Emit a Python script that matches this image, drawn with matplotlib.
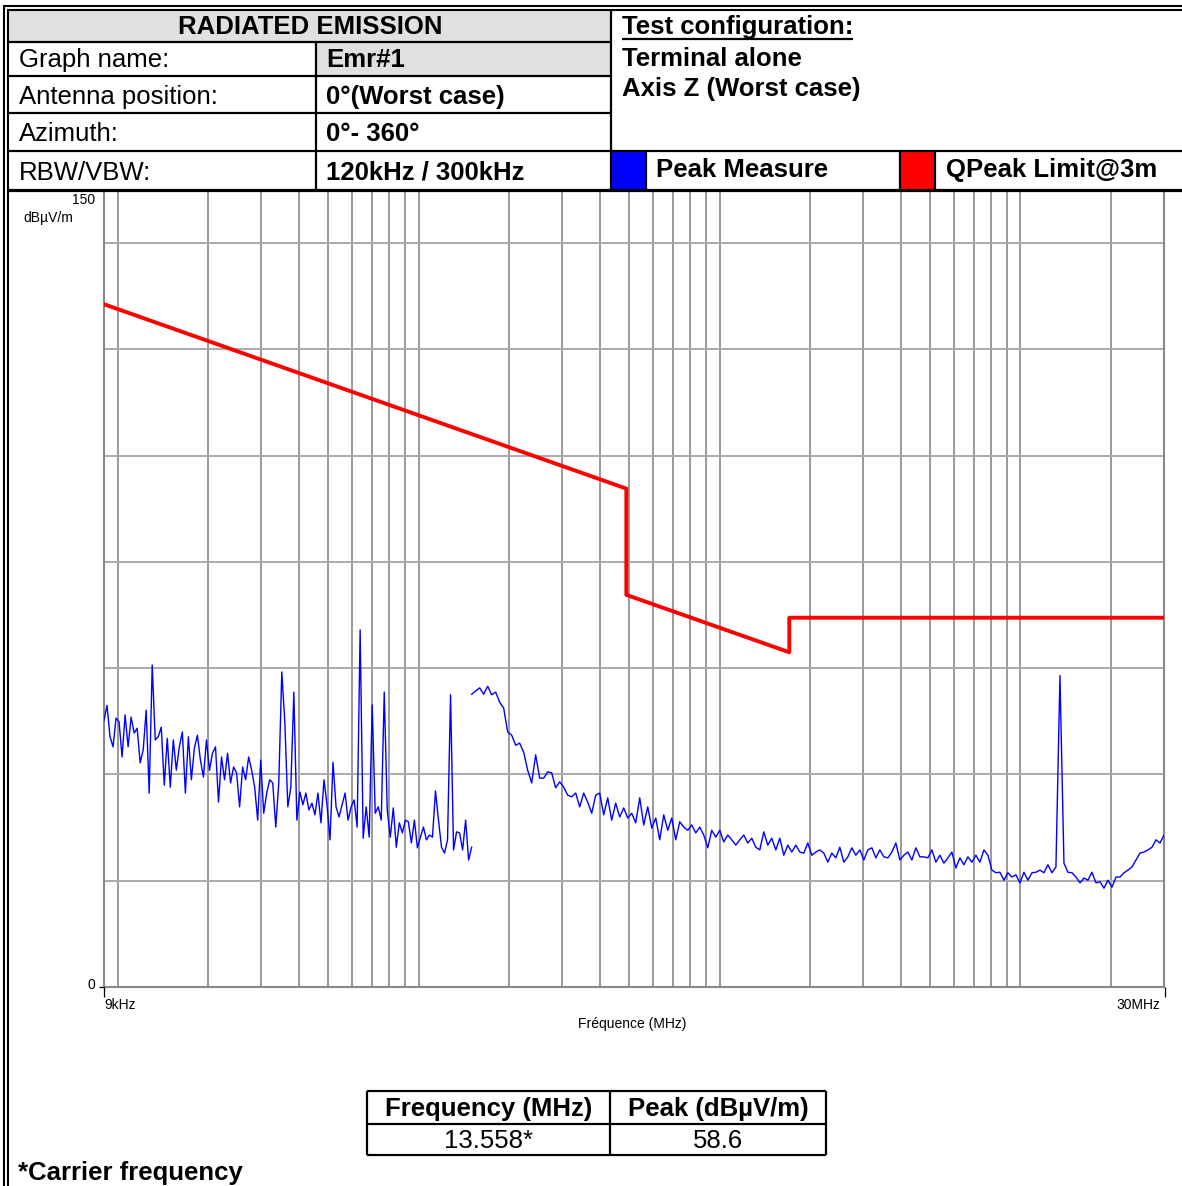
import numpy as np
import matplotlib
matplotlib.use("Agg")
import matplotlib.pyplot as plt
from matplotlib.patches import Rectangle

plt.rcParams['font.family'] = ['Liberation Sans', 'DejaVu Sans']

W, H = 1182, 1186

# ---- data ----
# 9 kHz - 150 kHz sweep (dBuV/m)
seg1_level = [50.2, 53.0, 47.1, 45.2, 50.6, 49.9, 43.3, 51.2, 45.2, 50.8,
              47.8, 48.7, 42.2, 44.6, 52.1, 36.5, 60.6, 46.5, 47.1, 48.9,
              38.0, 46.8, 37.6, 46.5, 40.8, 45.2, 48.0, 36.5, 47.1, 39.0,
              45.0, 47.4, 42.7, 39.5, 46.5, 40.8, 44.0, 45.2, 34.8, 43.3,
              39.0, 44.0, 38.4, 41.4, 40.3, 33.9, 41.4, 39.0, 43.3, 40.8,
              37.6, 31.4, 42.7, 32.7, 36.5, 39.0, 38.4, 30.1, 38.4, 59.3,
              49.9,
              33.9, 37.6, 55.5, 31.4, 36.7, 34.3, 36.5, 33.3, 34.6, 32.4,
              36.5, 30.9, 39.0, 34.3, 27.7, 42.3,
              33.9, 32.0, 34.3, 36.5, 31.4, 33.9, 35.2, 30.1, 67.2, 28.0,
              33.9, 28.2, 53.1, 32.7, 33.9, 31.4, 55.5, 33.3, 28.2, 33.7,
              26.3, 30.9, 29.0, 31.4, 31.1, 27.1, 31.4, 26.2, 28.2, 30.1,
              27.7, 28.6, 28.2, 36.9,
              31.4, 26.3, 25.2, 27.7, 55.0, 25.8, 29.2, 29.0, 25.8, 31.4,
              23.9, 26.3]
# 150 kHz - 30 MHz sweep (dBuV/m)
seg2_level = [55.1, 55.7, 56.3, 55.1, 56.6, 55.0, 55.5, 53.6, 52.5, 48.0,
              47.4, 45.5, 45.9, 44.2, 40.8, 38.4, 43.7, 39.3, 39.3, 40.5,
              40.3, 37.5, 38.6, 37.6, 36.1, 35.8, 36.5, 33.9, 36.5, 34.8,
              32.7, 36.1, 36.5, 32.4, 35.6, 31.4, 34.6, 32.0, 33.7, 31.8,
              32.7, 30.9,
              35.6, 30.5, 33.9, 29.9, 31.8, 27.7, 32.4, 29.5, 31.8, 27.7,
              31.1, 30.1, 29.5, 30.5, 29.0, 30.1, 28.6, 26.2, 29.5, 28.2,
              29.5, 27.3, 28.6, 27.7, 26.7, 27.7, 28.6, 27.1, 28.0, 26.3,
              25.8, 29.2, 26.7, 28.0, 25.8, 28.0, 24.8, 26.7, 25.4, 26.7,
              25.4, 25.2, 27.1, 24.8,
              25.4, 25.8, 25.2, 23.5, 25.2, 24.3, 26.3, 23.5, 24.5, 26.2,
              24.8, 25.8, 23.9, 25.8, 26.2, 24.3, 25.8, 24.5, 24.3, 25.4,
              27.1, 23.9, 24.8, 25.4, 23.9, 26.2, 24.5, 24.5, 24.3, 25.8,
              23.5, 24.8, 23.3, 24.3, 25.4, 22.4, 24.3, 23.0, 24.5, 23.5,
              24.8, 23.5, 25.8, 24.8,
              22.0, 21.5, 21.6, 20.1, 21.5, 20.7, 21.1, 19.6, 21.6, 20.1,
              21.5, 21.6, 22.0, 21.5, 23.0, 21.5, 22.6, 58.6, 23.3, 21.6,
              21.5, 20.7, 19.6, 20.5, 20.1, 21.6, 19.6, 19.8, 18.6, 20.1,
              18.8, 20.7, 20.7, 21.5, 22.0, 22.6, 23.9, 25.2, 25.4, 25.8,
              26.3, 27.7, 27.1, 28.6]
# sweep frequencies (MHz), log stepped
seg1_freq = np.geomspace(0.009, 0.15, len(seg1_level))
seg2_freq = np.geomspace(0.15, 30.0, len(seg2_level))

# QPeak limit @3m
limit_freq = [0.009, 0.49, 0.49, 1.705, 1.705, 30.0]
limit_level = [128.5, 93.8, 73.8, 63.0, 69.5, 69.5]

header_rows = [("Graph name:", "Emr#1"),
               ("Antenna position:", "0°(Worst case)"),
               ("Azimuth:", "0°- 360°"),
               ("RBW/VBW:", "120kHz / 300kHz")]
config_lines = ["Terminal alone", "Axis Z (Worst case)"]
result_cols = ["Frequency (MHz)", "Peak (dBµV/m)"]
result_vals = ["13.558*", "58.6"]

# ---- figure ----
fig = plt.figure(figsize=(W / 100, H / 100), dpi=100)

# chart area
x0, x1, ytop, ybot = 104, 1164, 190, 987
ax = fig.add_axes([x0 / W, (H - ybot) / H, (x1 - x0) / W, (ybot - ytop) / H])
ax.set_xscale('log')
ax.set_xlim(0.009, 30)
ax.set_ylim(0, 150)
ax.set_yticks(np.arange(0, 141, 20))
ax.xaxis.grid(True, which='both', color='#999999', lw=1.4)
ax.yaxis.grid(True, which='major', color='#aaaaaa', lw=1.4)
ax.tick_params(which='both', length=0, labelbottom=False, labelleft=False)
for s in ax.spines.values():
    s.set_color('#888888')
    s.set_linewidth(1.5)

ax.plot(limit_freq, limit_level, color='#ff0000', lw=2.8, zorder=3)
ax.plot(seg1_freq, seg1_level, color='#0000ff', lw=1.0, zorder=4)
ax.plot(seg2_freq, seg2_level, color='#0000ff', lw=1.0, zorder=4)

# overlay in pixel coordinates for the report frame
ov = fig.add_axes([0, 0, 1, 1], zorder=5)
ov.set_xlim(0, W)
ov.set_ylim(H, 0)
ov.axis('off')
ov.patch.set_alpha(0)


def hline(y, xa, xb, lw=1.6):
    ov.plot([xa, xb], [y, y], color='black', lw=lw, solid_capstyle='butt')


def vline(x, ya, yb, lw=1.6):
    ov.plot([x, x], [ya, yb], color='black', lw=lw, solid_capstyle='butt')


# grey cells
ov.add_patch(Rectangle((8, 10), 603, 32, color='#e0e0e0', lw=0))
ov.add_patch(Rectangle((316, 42), 295, 34, color='#e0e0e0', lw=0))
# legend swatches
ov.add_patch(Rectangle((612, 151), 34, 38, color='#0000ff', lw=0))
ov.add_patch(Rectangle((901, 151), 34, 38, color='#ff0000', lw=0))

# outer double frame
hline(5.5, 3, W, lw=1.5)
hline(10, 7, W, lw=1.5)
vline(3.5, 5, H, lw=1.5)
vline(8, 10, H, lw=1.5)

# header grid
for y in (42, 76, 113):
    hline(y, 8, 611)
hline(151, 8, W)
hline(189.5, 8, W, lw=2.3)
vline(316, 42, 189)
vline(611, 10, 189)
for x in (646, 900, 935):
    vline(x, 151, 189)

fs = 18.5
ov.text(310, 34, "RADIATED EMISSION", ha='center', va='baseline', fontsize=fs, fontweight='bold')
for i, (lab, val) in enumerate(header_rows):
    yb = [67, 104, 141, 180][i]
    ov.text(19, yb, lab, ha='left', va='baseline', fontsize=fs)
    ov.text(326, yb, val, ha='left', va='baseline', fontsize=fs, fontweight='bold')

tc = ov.text(622, 34, "Test configuration:", ha='left', va='baseline', fontsize=fs, fontweight='bold')
for i, line in enumerate(config_lines):
    ov.text(622, [66, 96][i], line, ha='left', va='baseline', fontsize=fs, fontweight='bold')
ov.text(656, 177, "Peak Measure", ha='left', va='baseline', fontsize=fs, fontweight='bold')
ov.text(946, 177, "QPeak Limit@3m", ha='left', va='baseline', fontsize=fs, fontweight='bold')

# underline for the configuration title
fig.canvas.draw()
bb = tc.get_window_extent().transformed(ov.transData.inverted())
hline(39, 622, max(bb.x0, bb.x1), lw=1.6)

# axis annotations
sf = 10
ov.text(95, 204, "150", ha='right', va='baseline', fontsize=sf)
ov.text(23, 222, "dBµV/m", ha='left', va='baseline', fontsize=sf)
ov.text(95, 989, "0", ha='right', va='baseline', fontsize=sf)
ov.text(104, 1009, "9kHz", ha='left', va='baseline', fontsize=sf)
ov.text(1160, 1009, "30MHz", ha='right', va='baseline', fontsize=sf)
ov.text(632, 1028, "Fréquence (MHz)", ha='center', va='baseline', fontsize=sf)
hline(987, 99, 104, lw=0.9)
vline(104, 987, 997, lw=0.9)
vline(1165, 987, 997, lw=0.9)

# result table
tx0, tx1, txm = 367, 826, 610
for y in (1091, 1123.5, 1154.5):
    hline(y, tx0, tx1, lw=1.6)
for x in (tx0, txm, tx1):
    vline(x, 1091, 1154.5, lw=1.6)
for cx, col, val in zip(((tx0 + txm) / 2, (txm + tx1) / 2), result_cols, result_vals):
    ov.text(cx, 1116, col, ha='center', va='baseline', fontsize=fs, fontweight='bold')
    ov.text(cx, 1148, val, ha='center', va='baseline', fontsize=fs)

ov.text(18, 1180, "*Carrier frequency", ha='left', va='baseline', fontsize=fs, fontweight='bold')

fig.savefig("out.png", dpi=100)
